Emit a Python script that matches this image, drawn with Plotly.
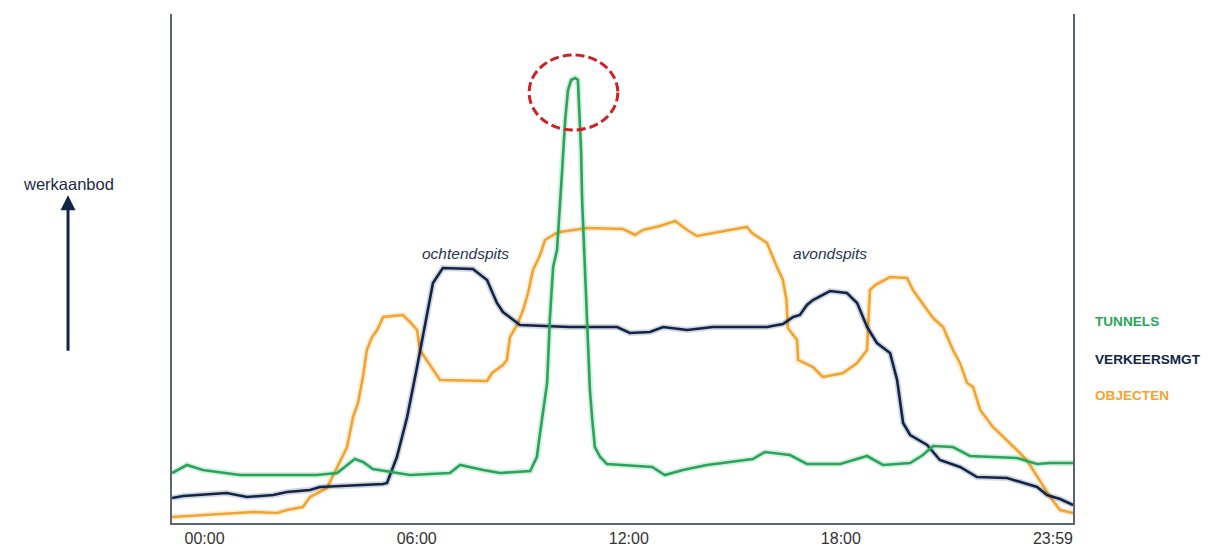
import plotly.graph_objects as go

# ---- data (hours of the day, relative workload) ----
tunnels_h = [-0.92, -0.50, -0.05, 1.00, 3.18, 3.75, 4.25, 4.48, 4.76, 5.24, 5.81, 6.94, 7.23, 7.88, 8.36,
             9.21, 9.40, 9.49, 9.69, 9.77, 9.86, 9.97, 10.05, 10.11, 10.20, 10.28, 10.37, 10.48, 10.56,
             10.59, 10.65, 10.68, 10.76, 10.82, 10.90, 10.96, 11.04, 11.19, 11.38, 12.66, 13.02, 13.53,
             14.21, 15.51, 15.85, 16.56, 17.04, 17.98, 18.74, 19.19, 19.96, 20.32, 20.61, 21.17, 21.65,
             22.98, 23.55, 23.92, 24.57]
tunnels_v = [50, 58, 53, 48, 48, 50, 64, 61, 54, 51, 48, 50, 58, 53, 50,
             52, 66, 90, 140, 206, 256, 273, 323, 350, 403, 433, 443, 445, 443,
             423, 373, 323, 253, 190, 133, 106, 76, 66, 59, 56, 48, 53,
             58, 64, 71, 68, 59, 59, 67, 58, 60, 68, 77, 76, 67,
             65, 59, 60, 60]

verkeer_h = [-0.92, -0.61, 0.63, 1.20, 1.94, 2.33, 2.98, 3.26, 5.05, 5.16, 5.44, 5.73, 6.01, 6.29, 6.46,
             6.74, 7.59, 7.99, 8.27, 8.44, 8.92, 10.34, 11.67, 12.03, 12.60, 12.97, 13.65, 14.38, 15.91,
             16.36, 16.65, 16.84, 17.04, 17.21, 17.69, 18.17, 18.46, 18.74, 19.02, 19.39, 19.59, 19.76,
             19.96, 20.44, 20.80, 21.37, 21.85, 22.70, 23.55, 23.83, 24.20, 24.57]
verkeer_v = [25, 27, 30, 26, 28, 31, 33, 36, 39, 40, 66, 106, 156, 206, 240,
             255, 254, 243, 220, 211, 198, 196, 196, 190, 191, 196, 193, 196, 196,
             199, 206, 208, 218, 223, 232, 230, 220, 196, 180, 170, 143, 100,
             88, 78, 63, 56, 46, 45, 36, 28, 24, 18]

objecten_h = [-0.92, 0.15, 1.37, 2.05, 2.33, 2.78, 2.98, 3.46, 3.75, 4.03, 4.20, 4.34, 4.48, 4.59, 4.74,
              4.88, 5.05, 5.61, 5.81, 6.01, 6.09, 6.46, 6.66, 7.99, 8.13, 8.44, 8.55, 8.64, 8.84, 9.01,
              9.15, 9.29, 9.49, 9.63, 9.91, 10.05, 10.82, 11.84, 12.18, 12.40, 12.88, 13.31, 13.65, 13.93,
              14.38, 14.86, 15.34, 15.49, 15.91, 16.19, 16.36, 16.46, 16.50, 16.76, 16.79, 17.21, 17.49,
              18.06, 18.46, 18.74, 18.77, 18.82, 18.97, 19.39, 19.87, 20.04, 20.44, 20.61, 20.89, 21.17,
              21.37, 21.57, 21.74, 21.94, 22.30, 22.70, 22.98, 23.26, 23.63, 23.92, 24.20, 24.57]
objecten_v = [6, 8, 11, 10, 13, 16, 26, 35, 56, 76, 106, 120, 146, 173, 186,
              193, 206, 208, 201, 193, 173, 153, 143, 142, 150, 158, 163, 186, 198, 213,
              230, 253, 268, 283, 289, 291, 295, 294, 288, 293, 297, 302, 293, 287,
              290, 293, 296, 290, 280, 256, 243, 223, 195, 183, 163, 156, 146,
              150, 160, 173, 193, 233, 238, 246, 245, 233, 213, 205, 196, 173,
              160, 140, 136, 113, 96, 83, 73, 63, 43, 26, 13, 10]

tick_vals = [0, 6, 12, 18, 24]
tick_text = ["00:00", "06:00", "12:00", "18:00", "23:59"]

series_names = ["TUNNELS", "VERKEERSMGT", "OBJECTEN"]
GREEN = "#27a55a"
NAVY = "#11254a"
ORANGE = "#f2a42e"
colors = [GREEN, NAVY, ORANGE]
FONT = "Arial, Liberation Sans, sans-serif"

fig = go.Figure()
series = [(series_names[2], objecten_h, objecten_v, ORANGE),
          (series_names[1], verkeer_h, verkeer_v, NAVY),
          (series_names[0], tunnels_h, tunnels_v, GREEN)]
for name, xs, ys, c in series:
    # soft halo under each line, as in the reference
    fig.add_trace(go.Scatter(x=xs, y=ys, mode="lines", line=dict(color=c, width=6),
                             opacity=0.18, hoverinfo="skip", showlegend=False))
    fig.add_trace(go.Scatter(x=xs, y=ys, mode="lines", name=name,
                             line=dict(color=c, width=2.6),
                             hoverinfo="skip", showlegend=False))

# red dashed ellipse around the tunnels peak
fig.add_shape(type="circle", xref="x", yref="y", x0=9.18, x1=11.69, y0=393, y1=468,
              line=dict(color="#cf2028", width=3, dash="9px,4px"))

annotations = [
    dict(x=7.39, y=270, xref="x", yref="y", text="<i>ochtendspits</i>", showarrow=False,
         font=dict(family=FONT, size=15.5, color="#2a3552")),
    dict(x=17.69, y=270, xref="x", yref="y", text="<i>avondspits</i>", showarrow=False,
         font=dict(family=FONT, size=15.5, color="#2a3552")),
    dict(x=-0.1154, y=0.666, xref="paper", yref="paper", text="werkaanbod", showarrow=False,
         xanchor="center", yanchor="middle",
         font=dict(family=FONT, size=16.5, color="#1f2a44")),
    dict(x=-0.1154, y=0.644, xref="paper", yref="paper", text="", showarrow=True,
         xanchor="center", ax=0, ay=157, arrowhead=2, arrowsize=1, arrowwidth=3, arrowcolor=NAVY),
]
for i, (nm, c) in enumerate(zip(series_names, colors)):
    annotations.append(dict(x=1.022, y=[0.395, 0.322, 0.250][i], xref="paper", yref="paper",
                            text="<b>" + nm + "</b>", showarrow=False, xanchor="left",
                            yanchor="middle",
                            font=dict(family=FONT, size=13.6, color=c)))

fig.update_layout(
    width=1225, height=547,
    margin=dict(l=164, r=160, t=6, b=32),
    paper_bgcolor="white", plot_bgcolor="white",
    annotations=annotations,
    xaxis=dict(range=[-0.922, 24.566], tickvals=tick_vals, ticktext=tick_text,
               showgrid=False, zeroline=False, showline=True, linecolor="#5b6570", linewidth=2,
               ticks="", tickfont=dict(family=FONT, size=16, color="#333333")),
    yaxis=dict(range=[0, 509], showgrid=False, zeroline=False, showticklabels=False,
               showline=True, mirror=True, linecolor="#5b6570", linewidth=2, ticks=""),
)

fig.write_html("out.html")
